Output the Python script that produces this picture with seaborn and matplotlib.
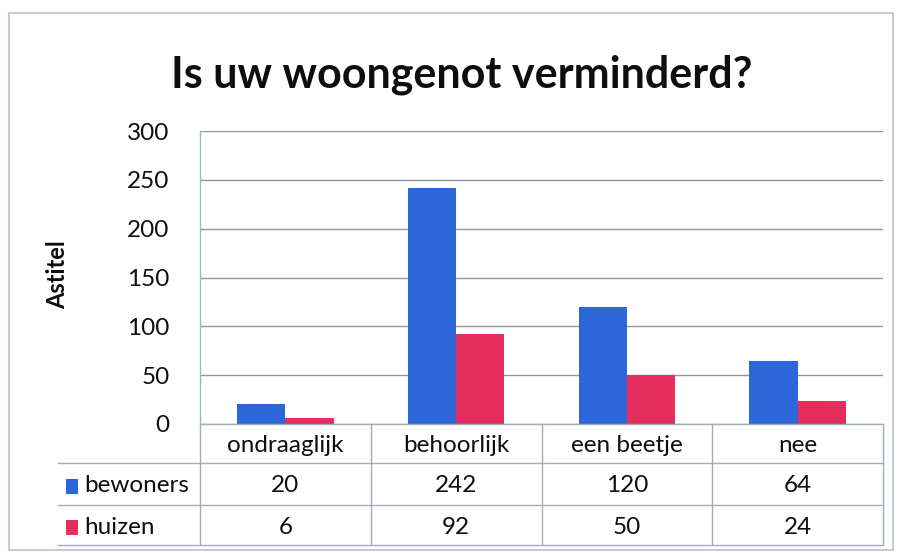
import matplotlib
matplotlib.use("Agg")
import matplotlib.pyplot as plt
import matplotlib.transforms as mtransforms
from matplotlib.lines import Line2D
from matplotlib.patches import Rectangle
import seaborn as sns
import pandas as pd

categories = ["ondraaglijk", "behoorlijk", "een beetje", "nee"]
series_names = ["bewoners", "huizen"]
bewoners = [20, 242, 120, 64]
huizen = [6, 92, 50, 24]
yticks = [0, 50, 100, 150, 200, 250, 300]
title = "Is uw woongenot verminderd?"
ylabel = "Astitel"

colors = {"bewoners": "#2D66D8", "huizen": "#E42F5E"}

df = pd.DataFrame({
    "categorie": categories * 2,
    "reeks": [series_names[0]] * 4 + [series_names[1]] * 4,
    "waarde": bewoners + huizen,
})

sns.set_theme(style="white")
plt.rcParams["font.family"] = ["Lato", "DejaVu Sans"]

W, H = 905, 553
fig = plt.figure(figsize=(W / 100, H / 100), dpi=100)
fig.patch.set_facecolor("white")

def fx(px):
    return px / W

def fy(py):
    return 1 - py / H

txt_col = "#0E0E0E"
ax_l, ax_r, ax_t, ax_b = 200, 883, 131, 424
ax = fig.add_axes([fx(ax_l), fy(ax_b), fx(ax_r) - fx(ax_l), fy(ax_t) - fy(ax_b)])

sns.barplot(data=df, x="categorie", y="waarde", hue="reeks", hue_order=series_names,
            order=categories, palette=colors, width=0.565, saturation=1,
            legend=False, ax=ax, linewidth=0)

ax.set_xlim(-0.5, len(categories) - 0.5)
ax.set_ylim(0, 300)
ax.set_yticks(yticks)
ax.set_yticklabels([str(t) for t in yticks], fontsize=17.5)
ax.tick_params(axis="y", length=0, pad=22, labelcolor=txt_col)
ax.set_xticks([])
ax.set_xlabel("")
ax.set_ylabel(ylabel, fontsize=17, fontweight="bold", color=txt_col)
ax.yaxis.set_label_coords((69 - ax_l) / (ax_r - ax_l), 0.51)
ax.grid(axis="y", color="#8E979F", linewidth=1)
ax.set_axisbelow(True)
for s in ["top", "right", "bottom"]:
    ax.spines[s].set_visible(False)
ax.spines["left"].set_color("#9FB4CC")
ax.spines["left"].set_linewidth(1)

fig.text(fx(462), fy(75), title, ha="center", va="center",
         fontsize=31, fontweight="bold", color=txt_col)

# data table below the axis
tr = mtransforms.blended_transform_factory(ax.transData, fig.transFigure)
line_col = "#A0ADBA"
row_y = [446, 486, 527]
h_lines = [463, 505, 545]
for yl in h_lines:
    fig.add_artist(Line2D([fx(58), fx(ax_r)], [fy(yl), fy(yl)],
                          transform=fig.transFigure, color=line_col, lw=1))
fig.add_artist(Line2D([fx(ax_l), fx(ax_r)], [fy(ax_b), fy(ax_b)],
                      transform=fig.transFigure, color=line_col, lw=1))
for i in range(len(categories) + 1):
    fig.add_artist(Line2D([i - 0.5, i - 0.5], [fy(ax_b), fy(545)],
                          transform=tr, color=line_col, lw=1))

fs = 17.5
for i, c in enumerate(categories):
    fig.text(i, fy(row_y[0]), c, transform=tr, ha="center", va="center",
             fontsize=fs, color=txt_col)
    fig.text(i, fy(row_y[1]), str(bewoners[i]), transform=tr, ha="center",
             va="center", fontsize=fs, color=txt_col)
    fig.text(i, fy(row_y[2]), str(huizen[i]), transform=tr, ha="center",
             va="center", fontsize=fs, color=txt_col)

for name, yy in zip(series_names, row_y[1:]):
    fig.add_artist(Rectangle((fx(66), fy(yy + 8)), fx(12), 15 / H,
                             transform=fig.transFigure, color=colors[name], lw=0))
    fig.text(fx(84), fy(yy), name, ha="left", va="center", fontsize=fs,
             color=txt_col)

# outer chart frame
fig.add_artist(Rectangle((fx(9), fy(550)), fx(893) - fx(9), fy(13) - fy(550),
                         transform=fig.transFigure, fill=False,
                         edgecolor="#B9C4CF", lw=1.2))

fig.savefig("out.png", dpi=100)
